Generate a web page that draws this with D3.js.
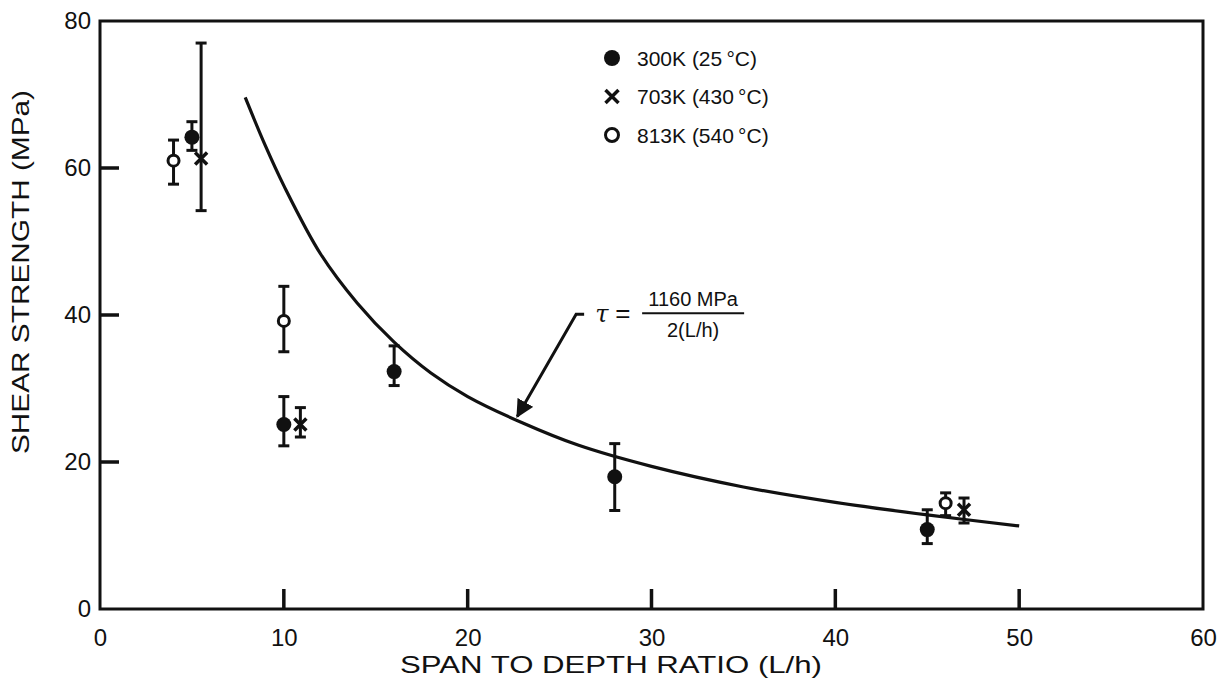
<!DOCTYPE html>
<html><head><meta charset="utf-8">
<script src="https://cdn.jsdelivr.net/npm/d3@7"></script>
<style>body{margin:0;background:#fff}svg{display:block}text{font-family:"Liberation Sans",Arial,sans-serif;fill:#111}</style>
</head><body><svg id="c" width="1230" height="694"></svg>
<script>
// ---- data ----
const xTicks = [0, 10, 20, 30, 40, 50, 60];
const yTicks = [0, 20, 40, 60, 80];
const xTitle = "SPAN TO DEPTH RATIO (L/h)";
const yTitle = "SHEAR STRENGTH (MPa)";

// series: x (L/h), value, error low, error high
const s300x = [5, 10, 16, 28, 45];
const s300y = [64.2, 25.1, 32.3, 18.0, 10.8];
const s300lo = [62.4, 22.2, 30.4, 13.4, 8.9];
const s300hi = [66.3, 28.9, 35.8, 22.5, 13.5];

const s703x = [5.5, 10.9, 47];
const s703y = [61.3, 25.1, 13.5];
const s703lo = [54.2, 23.4, 11.7];
const s703hi = [77.0, 27.4, 15.1];

const s813x = [4, 10, 46];
const s813y = [61.0, 39.2, 14.4];
const s813lo = [57.8, 35.0, 12.7];
const s813hi = [63.8, 43.9, 15.8];

// fitted curve tau = 1160 MPa / 2(L/h)
const curveX = [7.9, 9, 10, 12, 14, 16, 18, 20, 23, 26, 30, 35, 40, 45, 50];
const curveY = [69.6, 63.0, 57.6, 48.3, 41.6, 36.3, 32.1, 28.9, 25.3, 22.3, 19.4, 16.6, 14.5, 12.8, 11.3];

const legendLabels = ["300K (25\u2009\u00B0C)", "703K (430\u2009\u00B0C)", "813K (540\u2009\u00B0C)"];
const legendKinds = ["filled", "cross", "open"];

// annotation anchor (label start) and arrow tip, in data units
const annLabel = [25.9, 40.1];
const annTip = [22.7, 26.2];

// ---- drawing ----
const svg = d3.select("#c");
const x = d3.scaleLinear().domain([0, 60]).range([100, 1203]);
const y = d3.scaleLinear().domain([0, 80]).range([609, 21]);
const ink = "#111";
const FONT = '"Liberation Sans",Arial,sans-serif';

// frame
svg.append("rect").attr("x", x(0)).attr("y", y(80)).attr("width", x(60) - x(0)).attr("height", y(0) - y(80))
  .attr("fill", "none").attr("stroke", ink).attr("stroke-width", 3);

// tick labels via d3 axes
const xAxis = svg.append("g").attr("transform", `translate(0,${y(0)})`)
  .call(d3.axisBottom(x).tickValues(xTicks).tickSize(0).tickPadding(20).tickFormat(d3.format("d")));
xAxis.select(".domain").remove();
xAxis.selectAll("text").attr("font-size", 24).attr("font-family", FONT).attr("fill", ink);

const yAxis = svg.append("g").attr("transform", `translate(${x(0)},0)`)
  .call(d3.axisLeft(y).tickValues(yTicks).tickSize(0).tickPadding(9).tickFormat(d3.format("d")));
yAxis.select(".domain").remove();
yAxis.selectAll("text").attr("font-size", 24).attr("font-family", FONT).attr("fill", ink);

// axis titles
svg.append("text").attr("x", 611).attr("y", 673).attr("text-anchor", "middle").attr("font-size", 24)
  .attr("textLength", 422).attr("lengthAdjust", "spacingAndGlyphs").text(xTitle);
svg.append("text").attr("transform", "translate(29,272) rotate(-90)").attr("text-anchor", "middle").attr("font-size", 24)
  .attr("textLength", 364).attr("lengthAdjust", "spacingAndGlyphs").text(yTitle);

// curve
svg.append("path").datum(curveX.map((d, i) => [d, curveY[i]]))
  .attr("d", d3.line().x(d => x(d[0])).y(d => y(d[1])).curve(d3.curveCatmullRom))
  .attr("fill", "none").attr("stroke", ink).attr("stroke-width", 3.2);

// markers
function marker(g, kind, cx, cy, big) {
  if (kind === "filled") {
    g.append("circle").attr("cx", cx).attr("cy", cy).attr("r", big ? 8 : 7.5).attr("fill", ink);
  } else if (kind === "open") {
    g.append("circle").attr("cx", cx).attr("cy", cy).attr("r", big ? 6.5 : 5.5).attr("fill", "#fff")
      .attr("stroke", ink).attr("stroke-width", 3);
  } else {
    const s = big ? 6.5 : 6;
    g.append("path").attr("d", `M${cx - s},${cy - s}L${cx + s},${cy + s}M${cx - s},${cy + s}L${cx + s},${cy - s}`)
      .attr("stroke", ink).attr("stroke-width", 3.5).attr("fill", "none");
  }
}
function series(xs, ys, lo, hi, kind) {
  const g = svg.append("g");
  xs.forEach((d, i) => {
    const cx = x(d);
    g.append("line").attr("x1", cx).attr("x2", cx).attr("y1", y(lo[i])).attr("y2", y(hi[i]))
      .attr("stroke", ink).attr("stroke-width", 3);
    [lo[i], hi[i]].forEach(v => g.append("line").attr("x1", cx - 5.5).attr("x2", cx + 5.5)
      .attr("y1", y(v)).attr("y2", y(v)).attr("stroke", ink).attr("stroke-width", 3));
    marker(g, kind, cx, y(ys[i]), false);
  });
}
series(s703x, s703y, s703lo, s703hi, "cross");
series(s813x, s813y, s813lo, s813hi, "open");
series(s300x, s300y, s300lo, s300hi, "filled");

// legend
const leg = svg.append("g").attr("transform", "translate(612,58)");
legendLabels.forEach((t, i) => {
  const gy = i * 38.5;
  marker(leg, legendKinds[i], 0, gy, true);
  leg.append("text").attr("x", 25).attr("y", gy).attr("dy", "0.36em").attr("font-size", 21).text(t);
});

// annotation
const lx = x(annLabel[0]), ly = y(annLabel[1]);
const tx = x(annTip[0]), ty = y(annTip[1]);
svg.append("defs").append("marker").attr("id", "ah").attr("viewBox", "0 0 10 10").attr("refX", 9).attr("refY", 5)
  .attr("markerWidth", 6).attr("markerHeight", 6).attr("orient", "auto-start-reverse")
  .append("path").attr("d", "M0,0L10,5L0,10z").attr("fill", ink);
svg.append("path").attr("d", `M${lx + 8},${ly}L${lx},${ly}L${tx},${ty}`)
  .attr("fill", "none").attr("stroke", ink).attr("stroke-width", 3).attr("marker-end", "url(#ah)");
svg.append("text").attr("x", lx + 19).attr("y", ly + 8).attr("font-size", 24).attr("font-style", "italic")
  .style("font-family", '"DejaVu Serif",serif').text("\u03C4");
svg.append("text").attr("x", lx + 39).attr("y", ly + 8).attr("font-size", 26).text("=");
svg.append("line").attr("x1", lx + 66).attr("x2", lx + 168).attr("y1", ly - 1).attr("y2", ly - 1)
  .attr("stroke", ink).attr("stroke-width", 2.2);
svg.append("text").attr("x", lx + 117).attr("y", ly - 8).attr("text-anchor", "middle").attr("font-size", 20).text("1160 MPa");
svg.append("text").attr("x", lx + 117).attr("y", ly + 23).attr("text-anchor", "middle").attr("font-size", 20).text("2(L/h)");

// inward tick marks, drawn last on top of everything
const xt = xTicks.filter(d => d > 0 && d < 60);
const yt = yTicks.filter(d => d > 0 && d < 80);
const tg = svg.append("g").attr("class", "inward-ticks");
tg.selectAll("rect.xt").data(xt).join("rect").attr("class", "xt")
  .attr("x", d => x(d) - 1.75).attr("y", y(0) - 20).attr("width", 3.5).attr("height", 20).attr("fill", ink);
tg.selectAll("rect.yt").data(yt).join("rect").attr("class", "yt")
  .attr("x", x(0)).attr("y", d => y(d) - 1.75).attr("width", 19).attr("height", 3.5).attr("fill", ink);
</script></body></html>
